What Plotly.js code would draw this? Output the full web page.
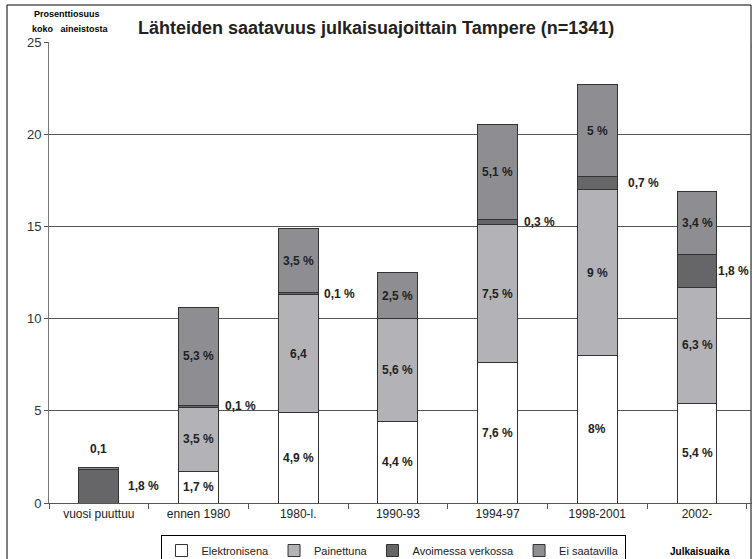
<!DOCTYPE html>
<html>
<head>
<meta charset="utf-8">
<script src="https://cdn.plot.ly/plotly-3.0.1.min.js"></script>
<style>html,body{margin:0;padding:0;background:#fff;overflow:hidden;}#chart{width:752px;height:559px;}</style>
</head>
<body>
<div id="chart"></div>
<script>
// ---- data ----
const categories = ['vuosi puuttuu', 'ennen 1980', '1980-l.', '1990-93', '1994-97', '1998-2001', '2002-'];
const seriesNames = ['Elektronisena', 'Painettuna', 'Avoimessa verkossa', 'Ei saatavilla'];
const elektronisena = [0, 1.7, 4.9, 4.4, 7.6, 8.0, 5.4];
const painettuna    = [0, 3.5, 6.4, 5.6, 7.5, 9.0, 6.3];
const avoimessa     = [1.8, 0.1, 0.1, 0, 0.3, 0.7, 1.8];
const eiSaatavilla  = [0.1, 5.3, 3.5, 2.5, 5.1, 5.0, 3.4];
const elekLabels  = ['', '1,7 %', '4,9 %', '4,4 %', '7,6 %', '8%', '5,4 %'];
const paintLabels = ['', '3,5 %', '6,4', '5,6 %', '7,5 %', '9 %', '6,3 %'];
const openLabels  = ['1,8 %', '0,1 %', '0,1 %', '', '0,3 %', '0,7 %', '1,8 %'];
const eiLabels    = ['0,1', '5,3 %', '3,5 %', '2,5 %', '5,1 %', '5 %', '3,4 %'];
const yTicks = [0, 5, 10, 15, 20, 25];

// ---- styles ----
const FONT = 'Liberation Sans, Arial, sans-serif';
const colors = ['#ffffff', '#b3b3b7', '#666668', '#8e8e92'];
const seriesVals = [elektronisena, painettuna, avoimessa, eiSaatavilla];

const traces = seriesVals.map((vals, i) => ({
  type: 'bar',
  name: seriesNames[i],
  x: categories,
  y: vals,
  marker: {color: colors[i], line: {color: '#333333', width: 1}},
  hoverinfo: 'none'
}));

// label annotations at segment centres
const annotations = [];
const lblFont = {family: FONT, size: 12, color: '#222222', weight: 'bold'};
categories.forEach((c, k) => {
  const b0 = 0, b1 = elektronisena[k], b2 = b1 + painettuna[k], b3 = b2 + avoimessa[k], b4 = b3 + eiSaatavilla[k];
  if (elekLabels[k]) annotations.push({x: c, y: (b0 + b1) / 2, text: elekLabels[k], showarrow: false, font: lblFont});
  if (paintLabels[k]) annotations.push({x: c, y: (b1 + b2) / 2, text: paintLabels[k], showarrow: false, font: lblFont});
  if (openLabels[k]) {
    let xs = 24;
    if (k === 0) xs = 27;
    if (k === 5) xs = 29;
    if (k === 6) xs = 19;
    annotations.push({x: c, y: (b2 + b3) / 2, text: openLabels[k], showarrow: false, font: lblFont, xanchor: 'left', xshift: xs});
  }
  if (eiLabels[k]) {
    if (k === 0) annotations.push({x: c, y: b4, text: eiLabels[k], showarrow: false, font: lblFont, yanchor: 'bottom', yshift: 10});
    else annotations.push({x: c, y: (b3 + b4) / 2, text: eiLabels[k], showarrow: false, font: lblFont});
  }
});

const smallBold = {family: FONT, size: 9, color: '#000000', weight: 'bold'};
annotations.push({xref: 'paper', yref: 'paper', x: (67 - 49) / 702, y: (503 - 14) / 461, text: 'Prosenttiosuus', showarrow: false, font: smallBold, xanchor: 'center', yanchor: 'middle'});
annotations.push({xref: 'paper', yref: 'paper', x: (70 - 49) / 702, y: (503 - 29) / 461, text: 'koko   aineistosta', showarrow: false, font: smallBold, xanchor: 'center', yanchor: 'middle'});
annotations.push({xref: 'paper', yref: 'paper', x: (700 - 49) / 702, y: (503 - 551) / 461, text: 'Julkaisuaika', showarrow: false, font: {family: FONT, size: 10, color: '#000', weight: 'bold'}, xanchor: 'center', yanchor: 'middle'});

const layout = {
  width: 752, height: 559,
  margin: {l: 49, r: 1, t: 42, b: 56, pad: 0, autoexpand: false},
  paper_bgcolor: '#ffffff', plot_bgcolor: '#ffffff',
  barmode: 'stack', bargap: 0.6,
  showlegend: true,
  font: {family: FONT, size: 12, color: '#222'},
  title: {
    text: 'Lähteiden saatavuus julkaisuajoittain Tampere (n=1341)',
    font: {family: FONT, size: 18, color: '#222', weight: 'bold'},
    x: 138 / 752, xanchor: 'left', xref: 'container',
    y: 1 - 28 / 559, yanchor: 'middle', yref: 'container'
  },
  xaxis: {
    type: 'category', categoryarray: categories, categoryorder: 'array',
    showline: true, linecolor: '#555', linewidth: 1,
    ticks: 'outside', tickson: 'boundaries', ticklen: 5, tickcolor: '#555',
    tickfont: {family: FONT, size: 12, color: '#222'},
    showgrid: false, fixedrange: true, automargin: false
  },
  yaxis: {
    range: [0, 25], tickvals: yTicks, ticktext: yTicks.map(String),
    showgrid: true, gridcolor: '#555', gridwidth: 1,
    showline: true, linecolor: '#777', linewidth: 1, mirror: true,
    ticks: 'outside', ticklen: 4, tickcolor: '#555',
    tickfont: {family: FONT, size: 13, color: '#333'},
    zeroline: false, fixedrange: true, automargin: false
  },
  legend: {
    orientation: 'h', xref: 'paper', yref: 'paper',
    x: (393 - 49) / 702, xanchor: 'center', y: (503 - 535) / 461, yanchor: 'top',
    bordercolor: '#000', borderwidth: 1, bgcolor: '#fff',
    font: {family: FONT, size: 11, color: '#222'},
    itemwidth: 30, traceorder: 'normal', tracegroupgap: 0
  },
  shapes: [{
    type: 'rect', xref: 'paper', yref: 'paper',
    x0: (7 - 49) / 702, x1: (751 - 49) / 702, y0: (503 - 570) / 461, y1: (503 - 5) / 461,
    line: {color: '#000', width: 1}, fillcolor: 'rgba(0,0,0,0)', layer: 'below'
  }],
  annotations: annotations
};

Plotly.newPlot('chart', traces, layout, {staticPlot: true, displayModeBar: false});
</script>
</body>
</html>
